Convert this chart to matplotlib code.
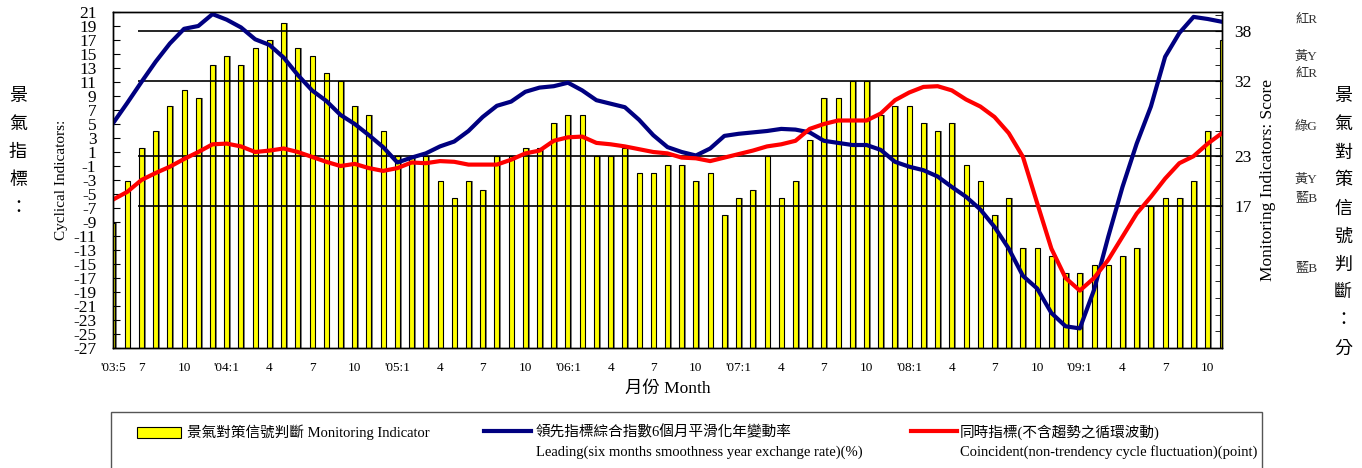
import numpy as np
import matplotlib
matplotlib.use('Agg')
import matplotlib.pyplot as plt
from matplotlib.ticker import MultipleLocator, FixedLocator
from matplotlib.patches import Rectangle
from matplotlib.lines import Line2D

plt.rcParams['font.family'] = ['Liberation Serif', 'Noto Sans CJK TC']
plt.rcParams['axes.unicode_minus'] = False

# datos: 2003/5 - 2009/11, un valor por mes
monitoring_score = [15, 20, 24, 26, 29, 31, 30, 34, 35, 34,
                    36, 37, 39, 36, 35, 33, 32, 29, 28, 26,
                    23, 23, 23, 20, 18, 20, 19, 23, 23, 24,
                    24, 27, 28, 28, 23, 23, 24, 21, 21, 22,
                    22, 20, 21, 16, 18, 19, 23, 18, 20, 25,
                    30, 30, 32, 32, 28, 29, 29, 27, 26, 27,
                    22, 20, 16, 18, 12, 12, 11, 9, 9, 10,
                    10, 11, 12, 17, 18, 18, 20, 26, 37]
leading_rate = [5.1, 8.0, 11.0, 13.9, 16.5, 18.6, 19.0, 20.7, 19.9, 18.8,
                17.1, 16.3, 14.5, 12.0, 9.8, 8.3, 6.3, 5.0, 3.4, 1.7,
                -0.5, 0.2, 0.8, 1.8, 2.5, 4.0, 6.0, 7.6, 8.2, 9.6,
                10.2, 10.4, 10.9, 9.8, 8.4, 7.9, 7.4, 5.6, 3.4, 1.7,
                1.0, 0.5, 1.5, 3.3, 3.6, 3.8, 4.0, 4.3, 4.2, 3.8,
                2.6, 2.3, 2.0, 2.0, 1.3, -0.4, -1.1, -1.6, -2.5, -4.0,
                -5.4, -7.2, -9.7, -12.8, -16.7, -18.5, -22.0, -23.9, -24.2, -18.7,
                -11.1, -4.0, 2.2, 7.5, 14.6, 18.0, 20.3, 20.0, 19.6]
coincident_cycle = [-5.8, -4.7, -3.0, -2.0, -1.1, 0.0, 1.0, 2.1, 2.2, 1.8,
                    1.0, 1.2, 1.5, 1.0, 0.3, -0.4, -1.0, -0.7, -1.3, -1.7,
                    -1.3, -0.5, -0.6, -0.3, -0.4, -0.8, -0.8, -0.8, -0.1, 0.8,
                    1.2, 2.6, 3.1, 3.2, 2.3, 2.1, 1.8, 1.4, 1.0, 0.8,
                    0.2, 0.1, -0.3, 0.2, 0.7, 1.2, 1.8, 2.1, 2.6, 4.3,
                    5.0, 5.5, 5.5, 5.5, 6.5, 8.4, 9.5, 10.3, 10.4, 9.8,
                    8.5, 7.5, 6.0, 3.7, 0.3, -6.3, -12.8, -17.0, -18.8, -17.0,
                    -14.4, -11.1, -7.8, -5.4, -2.8, -0.6, 0.4, 2.2, 3.7]
tick_labels = ["'03:5", '7', '10',
               "'04:1", '4', '7', '10',
               "'05:1", '4', '7', '10',
               "'06:1", '4', '7', '10',
               "'07:1", '4', '7', '10',
               "'08:1", '4', '7', '10',
               "'09:1", '4', '7', '10']
tick_months = [0, 2] + list(range(5, 78, 3))
signal_lines = [17, 23, 32, 38]
signal_labels = ['紅R', '黃Y', '紅R', '綠G', '黃Y', '藍B', '藍B']
signal_label_y = [20, 57, 74, 127, 180, 198, 268]

W, H = 1362, 468


def fx(px):
    return px / W


def fy(py):
    return 1 - py / H


def generar_grafico():
    fig = plt.figure(figsize=(W / 100, H / 100), dpi=100)
    ax = fig.add_axes([fx(113), fy(348), fx(1222) - fx(113), fy(12) - fy(348)])
    ax2 = ax.twinx()

    # eje derecho (puntaje) para las barras, eje izquierdo para las lineas
    ax.yaxis.tick_right()
    ax.yaxis.set_label_position('right')
    ax2.yaxis.tick_left()
    ax2.yaxis.set_label_position('left')

    x = np.arange(len(monitoring_score))
    ax.bar(x + 0.12, monitoring_score, width=0.35, color='#808080', zorder=1)
    ax.bar(x, monitoring_score, width=0.35, color='#ffff00',
           edgecolor='black', linewidth=0.8, zorder=2)
    ax.hlines(signal_lines, 1.75, 78, colors='black', linewidth=1.2, zorder=3)

    ax2.plot(x, leading_rate, color='#000080', linewidth=3, solid_joinstyle='round')
    ax2.plot(x, coincident_cycle, color='#ff0000', linewidth=3, solid_joinstyle='round')

    ax.set_xlim(0, 78)
    ax.set_ylim(0, 40.3)
    ax2.set_ylim(-27, 21)

    ax.set_xticks(tick_months, tick_labels)
    ax.tick_params(axis='x', length=0, labelsize=9.5, pad=10)
    ax.yaxis.set_major_locator(FixedLocator(signal_lines))
    ax.yaxis.set_minor_locator(MultipleLocator(2))
    ax.tick_params(axis='y', which='both', direction='in', length=5,
                   labelsize=12.5, pad=9)
    ax2.set_yticks(np.arange(-27, 22, 2))
    ax2.tick_params(axis='y', direction='in', length=5, labelsize=12.5, pad=12)

    for a in (ax, ax2):
        for s in a.spines.values():
            s.set_linewidth(1)

    ax.set_xlabel('月份 Month', fontsize=12.5, labelpad=5)
    ax.set_ylabel('Monitoring Indicators: Score', fontsize=12.5, labelpad=6)
    ax2.set_ylabel('Cyclical Indicators:', fontsize=11, labelpad=4)

    # textos verticales en chino
    for i, ch in enumerate('景氣指標：'):
        fig.text(fx(18), fy(97 + i * 28), ch, fontsize=13, ha='center', va='center')
    for i, ch in enumerate('景氣對策信號判斷：分'):
        fig.text(fx(1343), fy(97 + i * 28), ch, fontsize=13, ha='center', va='center')
    for lab, py in zip(signal_labels, signal_label_y):
        fig.text(fx(1295), fy(py), lab, fontsize=9.5, color='#333333',
                 ha='left', va='center')

    # leyenda
    fig.add_artist(Rectangle((fx(111), fy(480)), fx(1262) - fx(111), fy(412) - fy(480),
                             transform=fig.transFigure, facecolor='none',
                             edgecolor='#555555', linewidth=1))
    fig.add_artist(Rectangle((fx(137), fy(438)), fx(181) - fx(137), fy(427) - fy(438),
                             transform=fig.transFigure, facecolor='#ffff00',
                             edgecolor='black', linewidth=0.8))
    fig.add_artist(Line2D([fx(484), fx(531)], [fy(431), fy(431)],
                          transform=fig.transFigure, color='#000080', linewidth=3))
    fig.add_artist(Line2D([fx(911), fx(957)], [fy(431), fy(431)],
                          transform=fig.transFigure, color='#ff0000', linewidth=3))
    fig.text(fx(187), fy(432), '景氣對策信號判斷 Monitoring Indicator', fontsize=10.5, va='center')
    fig.text(fx(536), fy(432), '領先指標綜合指數6個月平滑化年變動率', fontsize=10.5, va='center')
    fig.text(fx(536), fy(452), 'Leading(six months smoothness year exchange rate)(%)',
             fontsize=10.5, va='center')
    fig.text(fx(960), fy(432), '同時指標(不含趨勢之循環波動)', fontsize=10.5, va='center')
    fig.text(fx(960), fy(452), 'Coincident(non-trendency cycle fluctuation)(point)',
             fontsize=10.5, va='center')

    fig.savefig('out.png', dpi=100)


if __name__ == "__main__":
    generar_grafico()
